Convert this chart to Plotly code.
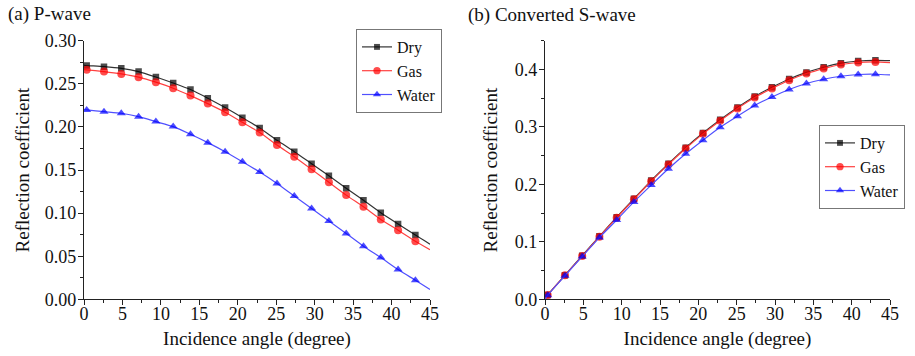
import plotly.graph_objects as go

# ---------------- data ----------------
angle = [0, 0.35, 2.6, 4.85, 7.1, 9.35, 11.6, 13.85, 16.1, 18.35, 20.6, 22.85,
         25.1, 27.35, 29.6, 31.85, 34.1, 36.35, 38.6, 40.85, 43.1, 45]

dry_p = [0.2716, 0.2713, 0.2700, 0.2680, 0.2643, 0.2580, 0.2510, 0.2434, 0.2334, 0.2225, 0.2108,
         0.1988, 0.1845, 0.1713, 0.1573, 0.1434, 0.1290, 0.1150, 0.1005, 0.0875, 0.0745, 0.0640]
gas_p = [0.2665, 0.2663, 0.2643, 0.2616, 0.2578, 0.2520, 0.2450, 0.2364, 0.2271, 0.2171, 0.2054,
         0.1935, 0.1790, 0.1655, 0.1508, 0.1358, 0.1209, 0.1073, 0.0926, 0.0802, 0.0674, 0.0575]
water_p = [0.2200, 0.2198, 0.2178, 0.2159, 0.2120, 0.2062, 0.2004, 0.1915, 0.1818, 0.1713, 0.1597,
           0.1477, 0.1345, 0.1198, 0.1054, 0.0910, 0.0764, 0.0616, 0.0485, 0.0345, 0.0221, 0.0115]

dry_s = [0.0, 0.0077, 0.0420, 0.0758, 0.1097, 0.1428, 0.1750, 0.2066, 0.2360, 0.2640, 0.2895,
         0.3126, 0.3340, 0.3532, 0.3690, 0.3835, 0.3950, 0.4040, 0.4110, 0.4148, 0.4160, 0.4155]
gas_s = [0.0, 0.0075, 0.0417, 0.0753, 0.1090, 0.1420, 0.1740, 0.2055, 0.2348, 0.2626, 0.2880,
         0.3110, 0.3322, 0.3513, 0.3670, 0.3814, 0.3930, 0.4017, 0.4087, 0.4122, 0.4132, 0.4120]
water_s = [0.0, 0.0072, 0.0410, 0.0745, 0.1075, 0.1380, 0.1695, 0.1988, 0.2272, 0.2533, 0.2770,
           0.2995, 0.3188, 0.3374, 0.3523, 0.3652, 0.3757, 0.3831, 0.3883, 0.3913, 0.3918, 0.3906]

series_names = ["Dry", "Gas", "Water"]
# ---------------- style ----------------
FONT = "Liberation Serif"
colors = {"Dry": "#000000", "Gas": "#ff0000", "Water": "#0000ff"}
line_colors = {"Dry": "#333333", "Gas": "#ff4040", "Water": "#5050ff"}
symbols = {"Dry": "square", "Gas": "circle", "Water": "triangle-up"}
msize = {"Dry": 6.5, "Gas": 8, "Water": 8}

# marker sizes: hide markers at the curve end-points
def sizes(name):
    return [0] + [msize[name]] * (len(angle) - 2) + [0]

fig = go.Figure()

for name, ys in zip(series_names, [dry_p, gas_p, water_p]):
    fig.add_trace(go.Scatter(
        x=angle, y=ys, name=name, mode="lines+markers",
        line=dict(color=line_colors[name], width=1.2, shape="spline", smoothing=0.6),
        marker=dict(symbol=symbols[name], color=colors[name], size=sizes(name), line=dict(width=0)),
        xaxis="x", yaxis="y", legend="legend", hoverinfo="skip"))

for name, ys in zip(series_names, [dry_s, gas_s, water_s]):
    fig.add_trace(go.Scatter(
        x=angle, y=ys, name=name, mode="lines+markers",
        line=dict(color=line_colors[name], width=1.2, shape="spline", smoothing=0.6),
        marker=dict(symbol=symbols[name], color=colors[name], size=sizes(name), line=dict(width=0)),
        xaxis="x2", yaxis="y2", legend="legend2", hoverinfo="skip"))

W, H = 915, 356
ydom = [(H - 299.3) / H, (H - 40.8) / H]
axis_common = dict(
    showline=True, linecolor="#222", linewidth=1.3, mirror=False,
    ticks="outside", ticklen=5, tickwidth=1.2, tickcolor="#222",
    showgrid=False, zeroline=False, automargin=False,
    tickfont=dict(family=FONT, size=18, color="#111"),
    title_font=dict(family=FONT, size=19, color="#111"),
)

fig.update_layout(
    width=W, height=H, margin=dict(l=0, r=0, t=0, b=0, autoexpand=False),
    paper_bgcolor="white", plot_bgcolor="white",
    font=dict(family=FONT, color="#111"),
    xaxis=dict(domain=[84 / W, 430 / W], range=[0, 45], dtick=5, anchor="y",
               ticklabelstandoff=-7,
               minor=dict(dtick=2.5, ticks="outside", ticklen=3, tickcolor="#222"),
               title=dict(text="Incidence angle (degree)", standoff=8), **axis_common),
    yaxis=dict(domain=ydom, range=[0, 0.30], dtick=0.05, tickformat=".2f", anchor="x",
               ticklabelstandoff=-2,
               minor=dict(dtick=0.025, ticks="outside", ticklen=3, tickcolor="#222"),
               title=dict(text="Reflection coefficient", standoff=10), **axis_common),
    xaxis2=dict(domain=[545 / W, 890 / W], range=[0, 45], dtick=5, anchor="y2",
                ticklabelstandoff=-7,
                minor=dict(dtick=2.5, ticks="outside", ticklen=3, tickcolor="#222"),
                title=dict(text="Incidence angle (degree)", standoff=8), **axis_common),
    yaxis2=dict(domain=ydom, range=[0, 0.45], tick0=0, dtick=0.1, tickformat=".1f", anchor="x2",
                ticklabelstandoff=-2,
                minor=dict(dtick=0.05, ticks="outside", ticklen=3, tickcolor="#222"),
                title=dict(text="Reflection coefficient", standoff=12), **axis_common),
    legend=dict(x=356 / W, y=(H - 29) / H, xanchor="left", yanchor="top",
                bgcolor="white", bordercolor="#777", borderwidth=1,
                font=dict(family=FONT, size=16, color="#111"), tracegroupgap=0),
    legend2=dict(x=819 / W, y=(H - 125) / H, xanchor="left", yanchor="top",
                 bgcolor="white", bordercolor="#777", borderwidth=1,
                 font=dict(family=FONT, size=16, color="#111"), tracegroupgap=0),
    showlegend=True,
    annotations=[
        dict(text="(a) P-wave", x=6 / W, y=(H - 14) / H, xref="paper", yref="paper",
             xanchor="left", yanchor="middle", showarrow=False,
             font=dict(family=FONT, size=19, color="#111")),
        dict(text="(b) Converted S-wave", x=466 / W, y=(H - 15) / H, xref="paper", yref="paper",
             xanchor="left", yanchor="middle", showarrow=False,
             font=dict(family=FONT, size=19, color="#111")),
    ],
)

fig.write_html("out.html")
